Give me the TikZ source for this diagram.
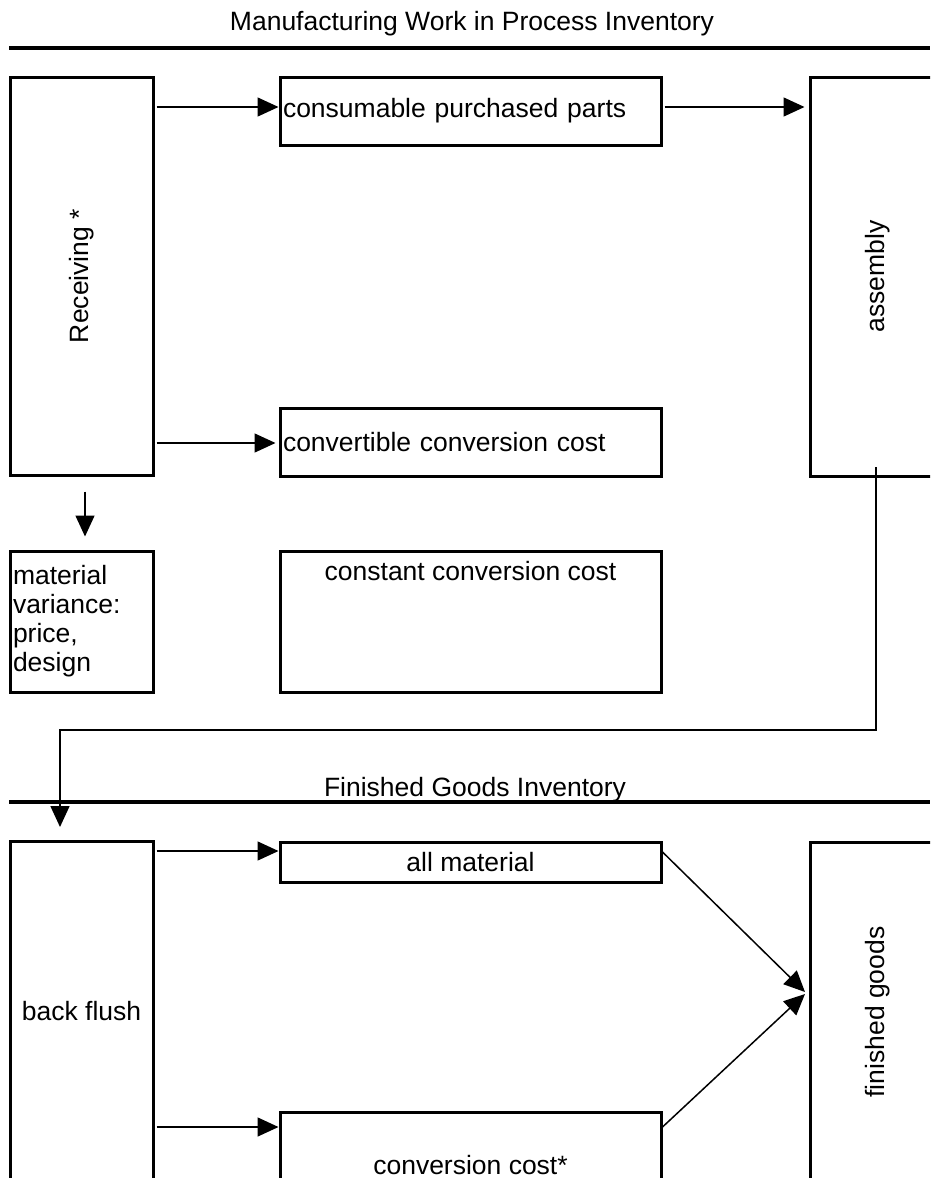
\documentclass[tikz,border=0pt]{standalone}
\usepackage{fontspec}
\setmainfont{Liberation Sans}
\usetikzlibrary{arrows.meta,positioning}

\begin{document}
\begin{tikzpicture}[x=1pt,y=-1pt,
    font=\fontsize{26.5pt}{29pt}\selectfont,
    box/.style={draw, line width=3pt, inner sep=0pt},
    lbl/.style={inner sep=0pt},
    arr/.style={line width=1.5pt, -{Triangle[length=21pt,width=19pt]}},
    rule/.style={line width=3.2pt}]
\useasboundingbox (0,0) rectangle (930,1178);
\clip (0,0) rectangle (930,1178);

% work in process part
\node[lbl, anchor=base] (wiphead) at (472,30) {Manufacturing Work in Process Inventory};
\draw[rule] (9,48) -- (930,48);

\node[box, minimum width=143pt, minimum height=398pt] (recv) at (81.5,276) {};
\node[lbl, rotate=90] (recvlbl) at (recv) {Receiving *};
\node[box, minimum width=381pt, minimum height=68pt, text width=375pt, inner xsep=3pt, align=left] (parts) at (470.5,111) {consumable purchased parts};
\node[box, minimum width=381pt, minimum height=68pt, text width=375pt, inner xsep=3pt, align=left] (conv) at (470.5,442) {convertible conversion cost};
\node[box, minimum width=136pt, minimum height=399pt] (asm) at (878,276.5) {};
\node[lbl, rotate=90] (asmlbl) at (asm) {assembly};
\node[box, minimum width=143pt, minimum height=141pt, text width=137pt, inner xsep=3pt, align=left] (matl) at (81.5,621.5) {material\\variance:\\price,\\design};
\node[box, minimum width=381pt, minimum height=141pt] (const) at (470.5,621.5) {};
\node[lbl, anchor=base] (constlbl) at (const.north |- 0,580) {constant conversion cost};

\draw[arr] ([xshift=2pt]recv.east |- 0,107) -- (parts.west |- 0,107);
\draw[arr] ([xshift=2pt]parts.east |- 0,107) -- ([xshift=-4pt]asm.west |- 0,107);
\draw[arr] ([xshift=2pt]recv.east |- 0,443) -- ([xshift=-3pt]conv.west |- 0,443);
\draw[arr] ([xshift=3.5pt,yshift=-15pt]recv.south) -- ([xshift=3.5pt,yshift=13pt]matl.north);

% finished goods part
\node[lbl, anchor=base] (fghead) at (475,796) {Finished Goods Inventory};
\draw[rule] (9,802) -- (930,802);

\node[box, minimum width=143pt, minimum height=341pt] (bflush) at (81.5,1011.5) {back flush};
\node[box, minimum width=381pt, minimum height=40pt] (allmat) at (470.5,862) {all material};
\node[box, minimum width=381pt, minimum height=98pt] (convc) at (470.5,1161) {};
\node[lbl, anchor=base] (convclbl) at (convc.north |- 0,1174) {conversion cost*};
\node[box, minimum width=136pt, minimum height=340pt] (fg) at (878,1012) {};
\node[lbl, rotate=90] (fglbl) at (fg) {finished goods};

% assembly feeds the back flush
\coordinate (asmout) at (876,467);
\coordinate (turn) at (60,730);
\coordinate (bfin) at (60,827);
\draw[arr] (asmout) |- (turn) -- (bfin);

\draw[arr] ([xshift=2pt]bflush.east |- 0,851) -- (allmat.west |- 0,851);
\draw[arr] ([xshift=2pt]bflush.east |- 0,1127) -- (convc.west |- 0,1127);

\coordinate (tipa) at (805,992);
\coordinate (tipb) at (805,994);
\draw[arr] (allmat.east |- 0,852) -- (tipa);
\draw[arr] (convc.east |- 0,1127) -- (tipb);
\end{tikzpicture}
\end{document}
